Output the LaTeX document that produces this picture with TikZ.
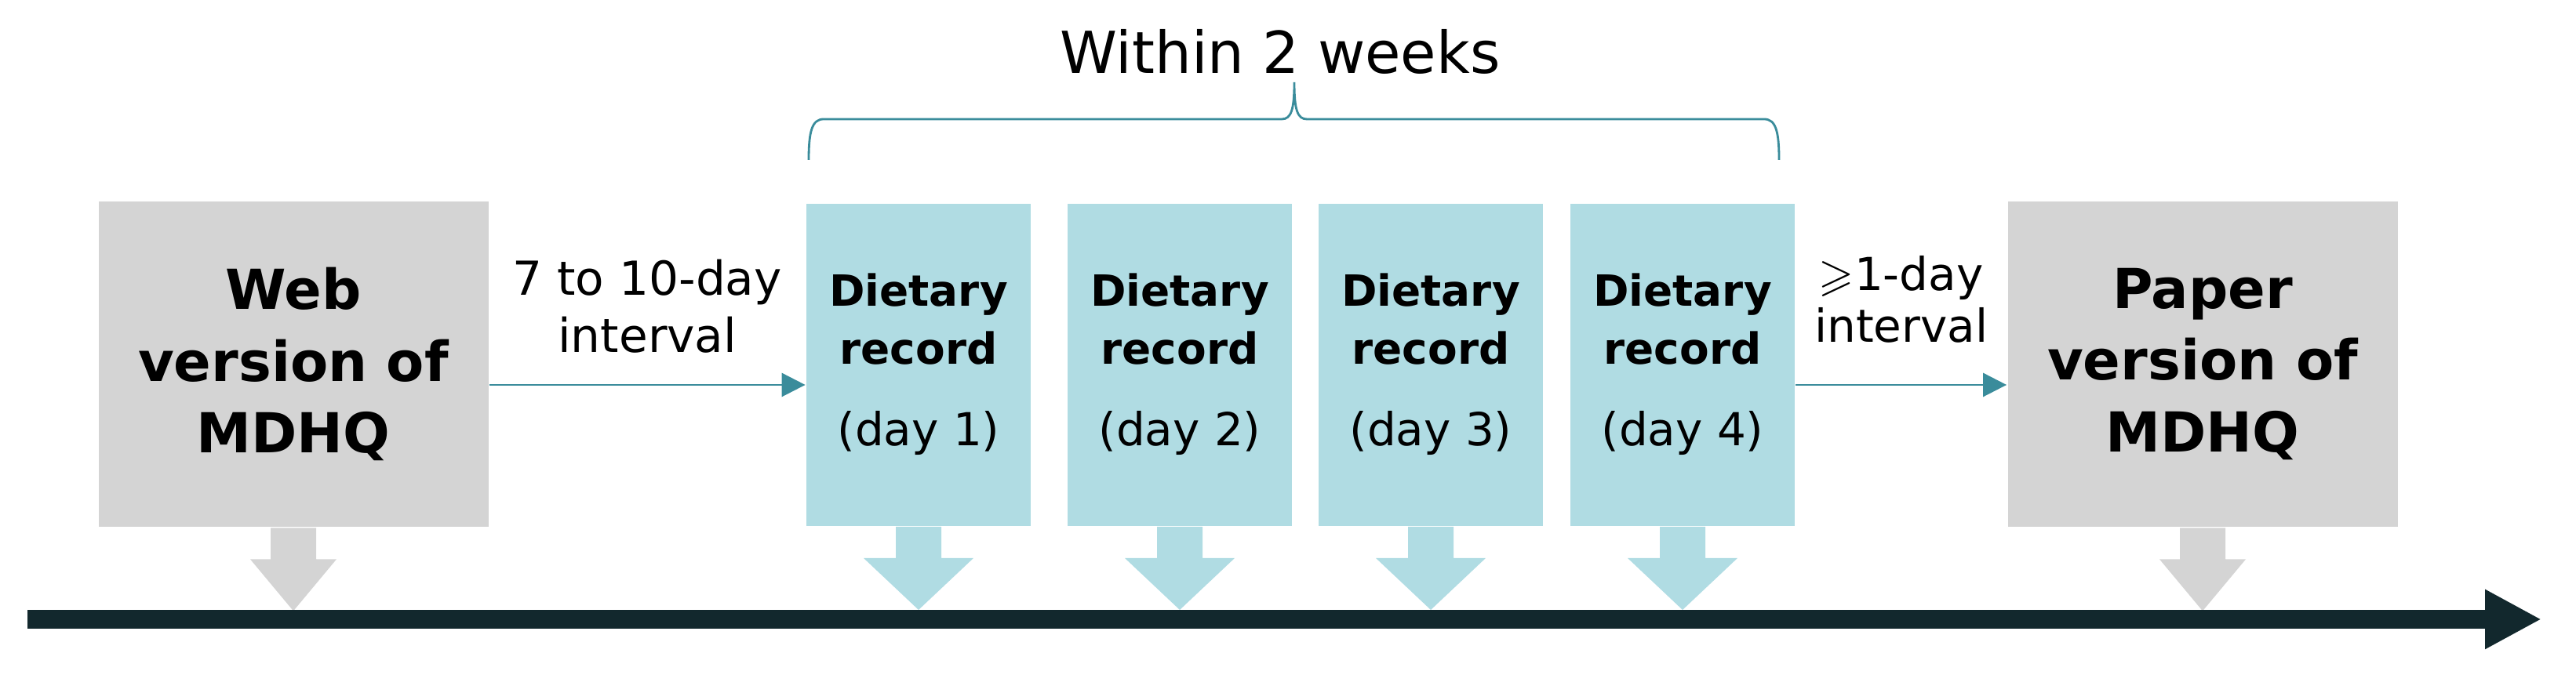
\documentclass[tikz,border=0pt]{standalone}
\usepackage{amssymb}
\usepackage{fontspec}
\setmainfont{DejaVu Sans}
\usetikzlibrary{positioning,calc,arrows.meta}

\definecolor{qGray}{HTML}{D4D4D4}
\definecolor{recBlue}{HTML}{B0DCE3}
\definecolor{linkTeal}{HTML}{3A8C9B}
\definecolor{axisDark}{HTML}{12282D}

\begin{document}
\begin{tikzpicture}
  [thick,
   qstnN/.style={fill=qGray,minimum width=4.97cm,minimum height=4.15cm,align=center,
     font=\fontsize{20}{26}\selectfont\bfseries},
   recN/.style={fill=recBlue,minimum width=2.86cm,minimum height=4.11cm,align=center,
     anchor=south,font=\fontsize{15.6}{20.8}\selectfont\bfseries},
   gapN/.style={align=center,inner sep=0pt,text=black,font=\fontsize{17}{20.8}\selectfont},
   linkA/.style={linkTeal,line width=0.8pt,-{Triangle[length=0.3cm,width=0.3cm]}},
   axisA/.style={axisDark,line width=0.24cm,-{Triangle[length=0.72cm,width=0.71cm]}},
   braceA/.style={linkTeal,line width=0.8pt},
  ]

 \useasboundingbox (0,0) rectangle (32.84,8.70);

 % questionnaires
 \node[qstnN] (web) at (3.74,4.055) {Web\\version of\\MDHQ};
 \node[qstnN] (paper) at (28.08,4.055) {Paper\\version of\\MDHQ};

 % dietary records
 \foreach \i/\x in {1/11.71,2/15.04,3/18.24,4/21.45}
   \node[recN] (d\i) at (\x,1.98)
     {Dietary\\record\\[9pt]{\mdseries\fontsize{16.5}{20}\selectfont (day \i)}};

 % intervals
 \coordinate (lvl) at (0,3.79);
 \draw[linkA] (web.east |- lvl) -- node[gapN,above=0.39cm] {7 to 10-day\\interval} (d1.west |- lvl);
 \draw[linkA] (d4.east |- lvl) -- node[gapN,above=0.52cm,font=\fontsize{16.5}{18.8}\selectfont]
   {$\geqslant$1-day\\interval} (paper.west |- lvl);

 % block arrows down to the time line
 \foreach \n/\hw/\col in {web/0.55/qGray,d1/0.70/recBlue,d2/0.70/recBlue,
                          d3/0.70/recBlue,d4/0.70/recBlue,paper/0.55/qGray}
   \fill[\col] ($(\n.south)+(-0.29,0)$) -- ++(0,-0.40) -- ++({0.29-\hw},0)
     -- ($(\n.south)+(0,-1.06)$) -- ($(\n.south)+(\hw,-0.40)$) -- ++({0.29-\hw},0)
     -- ++(0,0.40) -- cycle;

 % time line
 \coordinate (tlS) at (0.35,0.80);
 \coordinate (tlE) at (32.40,0.80);
 \draw[axisA] (tlS) -- (tlE);

 % brace over the records
 \coordinate (cusp) at (16.50,7.65);
 \draw[braceA] (10.31,6.66) .. controls (10.31,7.02) and (10.35,7.18) .. (10.50,7.18)
   -- (16.34,7.18) .. controls (16.46,7.18) and (16.50,7.30) .. (cusp)
   .. controls (16.50,7.30) and (16.54,7.18) .. (16.66,7.18)
   -- (22.49,7.18) .. controls (22.64,7.18) and (22.68,7.02) .. (22.68,6.66);
 \node[font=\fontsize{21}{25}\selectfont,anchor=base] (span) at ($(cusp)+(-0.18,0.11)$) {Within 2 weeks};
\end{tikzpicture}
\end{document}
